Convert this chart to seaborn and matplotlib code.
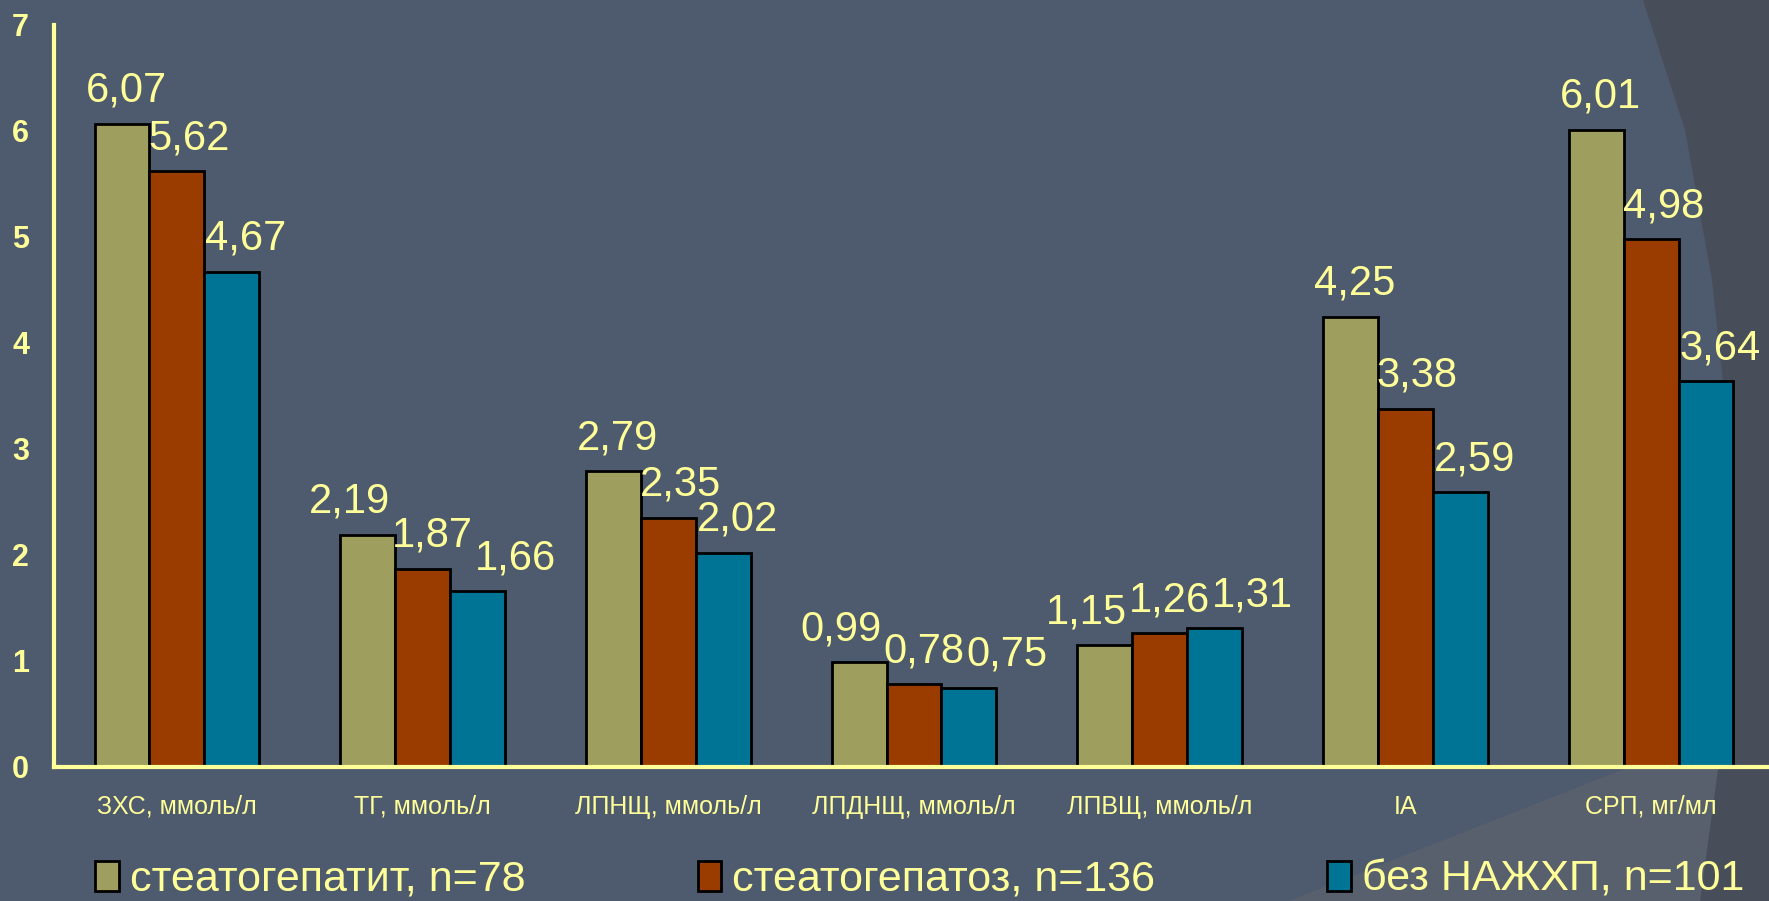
#!/usr/bin/env python3
"""Lipid profile bar chart (three patient groups)"""
import pandas as pd
import seaborn as sns
from matplotlib import pyplot as plt
from matplotlib.patches import Polygon, Patch

categories = ["ЗХС, ммоль/л", "ТГ, ммоль/л", "ЛПНЩ, ммоль/л", "ЛПДНЩ, ммоль/л",
              "ЛПВЩ, ммоль/л", "IA", "СРП, мг/мл"]
groups = ["стеатогепатит, n=78", "стеатогепатоз, n=136", "без НАЖХП, n=101"]
steatohepatitis = [6.07, 2.19, 2.79, 0.99, 1.15, 4.25, 6.01]
steatohepatosis = [5.62, 1.87, 2.35, 0.78, 1.26, 3.38, 4.98]
no_nafld = [4.67, 1.66, 2.02, 0.75, 1.31, 2.59, 3.64]
y_ticks = [0, 1, 2, 3, 4, 5, 6, 7]

BG = "#4E5A6D"
TXT = "#FFFF99"
colors = ["#9E9E5E", "#9A3C00", "#007494"]
W, H = 1769, 901

sns.set_theme(style="white")
plt.rcParams["font.family"] = ["Liberation Sans", "DejaVu Sans"]

rows = []
for g, vals in zip(groups, [steatohepatitis, steatohepatosis, no_nafld]):
    for c, v in zip(categories, vals):
        rows.append({"cat": c, "group": g, "val": v})
df = pd.DataFrame(rows)

fig = plt.figure(figsize=(W / 100, H / 100), dpi=100)
fig.patch.set_facecolor(BG)

# background decoration (slide theme)
def px(pts):
    return [(x / W, 1 - y / H) for x, y in pts]

fig.add_artist(Polygon(px([(1289, 901), (1769, 712), (1769, 901)]),
                       closed=True, transform=fig.transFigure,
                       facecolor="#59606D", edgecolor="none", zorder=0))
fig.add_artist(Polygon(px([(1643, 0), (1685, 130), (1712, 280), (1728, 430),
                           (1733, 580), (1722, 740), (1700, 901),
                           (1769, 901), (1769, 0)]),
                       closed=True, transform=fig.transFigure,
                       facecolor="#484E59", edgecolor="none", zorder=0))

ax = fig.add_axes([54 / W, 1 - 767 / H, 1720 / W, 742 / H])
ax.set_facecolor("none")

sns.barplot(data=df, x="cat", y="val", hue="group", palette=colors,
            width=0.67, edgecolor="black", linewidth=2, saturation=1,
            legend=False, ax=ax)

ax.set_xlim(-0.5, len(categories) - 0.5)
ax.set_ylim(0, 7)
ax.set_yticks(y_ticks)
ax.set_xlabel("")
ax.set_ylabel("")

for side in ["top", "right"]:
    ax.spines[side].set_visible(False)
for side in ["left", "bottom"]:
    ax.spines[side].set_color(TXT)
    ax.spines[side].set_linewidth(3)
    ax.spines[side].set_zorder(5)

ax.tick_params(axis="y", colors=TXT, length=6, width=3, direction="out",
               pad=12, labelsize=22)
for lab in ax.get_yticklabels():
    lab.set_fontweight("bold")

ax.set_xticks(range(len(categories)))
ax.set_xticklabels(categories)
ax.tick_params(axis="x", which="major", length=0, pad=20, labelsize=18,
               colors=TXT)
ax.set_xticks([i + 0.5 for i in range(len(categories) - 1)], minor=True)
ax.tick_params(axis="x", which="minor", length=5, width=3, color=TXT,
               direction="out")

# value labels
dx = [4, 12, 14]
labels = []
for k, cont in enumerate(ax.containers):
    row = []
    for bar, v in zip(cont, [steatohepatitis, steatohepatosis, no_nafld][k]):
        a = ax.annotate(f"{v:.2f}".replace(".", ","),
                        (bar.get_x() + bar.get_width() / 2, bar.get_height()),
                        xytext=(dx[k], 22), textcoords="offset pixels",
                        ha="center", va="baseline", fontsize=30, color=TXT,
                        annotation_clip=False, zorder=6)
        row.append(a)
    labels.append(row)

# push apart labels that collide within a group
fig.canvas.draw()
rend = fig.canvas.get_renderer()
for i in range(len(categories)):
    trio = [labels[k][i] for k in range(3)]
    for _ in range(10):
        moved = False
        for a, b in [(trio[0], trio[1]), (trio[1], trio[2])]:
            ba, bb = a.get_window_extent(rend), b.get_window_extent(rend)
            ov = ba.x1 - bb.x0 + 2
            if ov > 0 and ba.y0 < bb.y1 - 6 and bb.y0 < ba.y1 - 6:
                a.xyann = (a.xyann[0] - ov / 2, a.xyann[1])
                b.xyann = (b.xyann[0] + ov / 2, b.xyann[1])
                moved = True
        if not moved:
            break

handles = [Patch(facecolor=c, edgecolor="black", linewidth=2) for c in colors]
leg = fig.legend(handles, groups, loc="center", bbox_to_anchor=(0.52, 1 - 880 / H),
                 ncol=3, frameon=False, handlelength=0.55, handleheight=0.7,
                 handletextpad=0.25, columnspacing=4.0,
                 prop={"size": 31})
for t in leg.get_texts():
    t.set_color(TXT)

plt.savefig("out.png", dpi=100, facecolor=fig.get_facecolor())
